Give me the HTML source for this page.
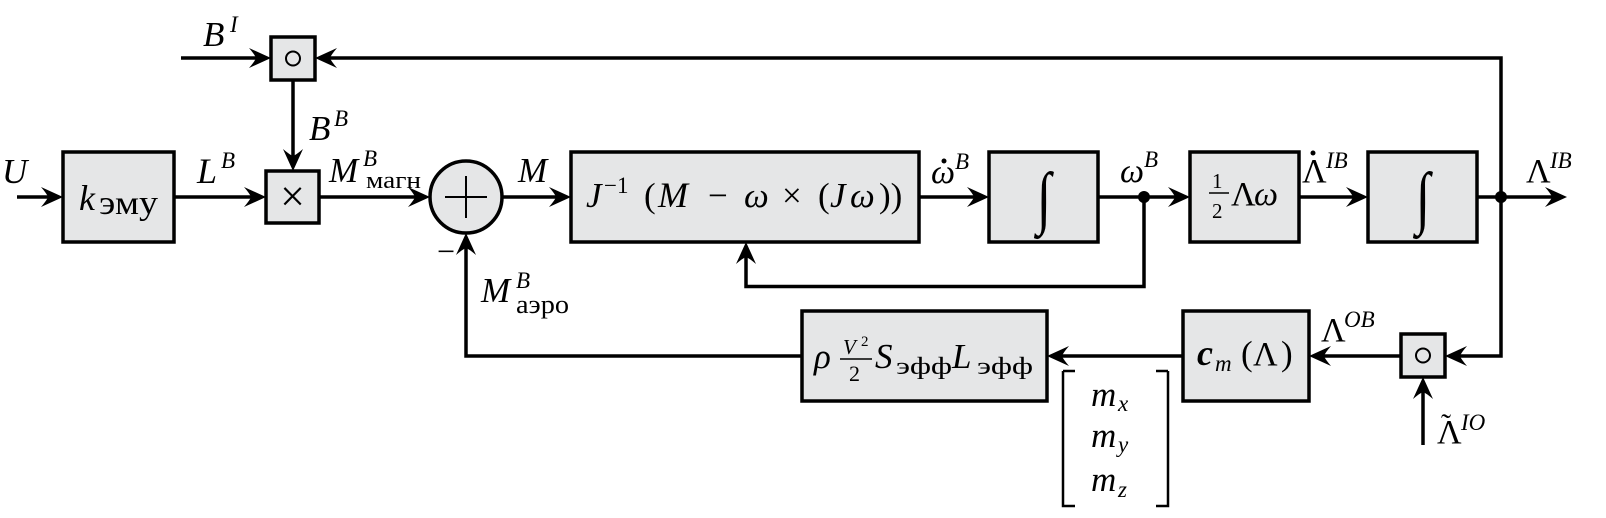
<!DOCTYPE html>
<html><head><meta charset="utf-8"><style>
html,body{margin:0;padding:0;background:#fff;}
svg{display:block;}
.t{font-family:"Liberation Serif","DejaVu Serif",serif;fill:#000;}
.i{font-style:italic;}
</style></head><body>
<svg width="1606" height="518" viewBox="0 0 1606 518" xmlns="http://www.w3.org/2000/svg">
<defs>
<marker id="a" viewBox="-24 -11 26 22" refX="-8" refY="0" markerWidth="26" markerHeight="22" markerUnits="userSpaceOnUse" orient="auto">
<path d="M0,0 L-22,-10 Q-16,-3 -15,0 Q-16,3 -22,10 Z" fill="#000"/>
</marker>
</defs>
<rect width="1606" height="518" fill="#fff"/>
<g fill="#e5e6e7" stroke="#000" stroke-width="3.5">
<rect x="63" y="152" width="111" height="90"/>
<rect x="266" y="171" width="53" height="52"/>
<rect x="271" y="37" width="44" height="43"/>
<circle cx="466" cy="197" r="36"/>
<rect x="571" y="152" width="348" height="90"/>
<rect x="989" y="152" width="109" height="90"/>
<rect x="1190" y="152" width="109" height="90"/>
<rect x="1368" y="152" width="109" height="90"/>
<rect x="802" y="311" width="245" height="90"/>
<rect x="1183" y="311" width="126" height="90"/>
<rect x="1401" y="334" width="44" height="43"/>
</g>
<g fill="none" stroke="#000" stroke-width="3.5" marker-end="url(#a)">
<path d="M17,197 H55"/>
<path d="M174,197 H258"/>
<path d="M319,197 H422"/>
<path d="M502,197 H563"/>
<path d="M919,197 H981"/>
<path d="M1098,197 H1182"/>
<path d="M1299,197 H1360"/>
<path d="M1477,197 H1559"/>
<path d="M1501,197 V58 H323"/>
<path d="M1501,197 V356 H1453"/>
<path d="M181,58 H263"/>
<path d="M293,80 V163"/>
<path d="M1144,197 V286.5 H746 V250"/>
<path d="M1423,445 V385"/>
<path d="M1401,356 H1317"/>
<path d="M1183,356 H1055"/>
<path d="M802,356 H466 V241"/>
</g>
<circle cx="1144" cy="197" r="6"/>
<circle cx="1501" cy="197" r="6"/>
<g fill="none" stroke="#000" stroke-width="2">
<circle cx="293" cy="58.5" r="7"/>
<circle cx="1423" cy="355.5" r="7"/>
<path d="M445,197 H487 M466,176 V218"/>
<path d="M1063,371 H1075 M1063,371 V506 H1075 M1168,371 H1156 M1168,371 V506 H1156" stroke-width="2.5"/>
<path d="M1209,193 H1229" stroke-width="1.5"/>
<path d="M840,359 H872" stroke-width="1.5"/>
</g>
<g class="t" font-size="34">
<text x="2" y="183" class="t i" font-size="35">U</text>
<text x="197" y="183" class="t i" font-size="36">L</text><text x="221" y="168" class="t i" font-size="23">B</text>
<text x="203" y="46" class="t i" font-size="35">B</text><text x="230" y="32" class="t i" font-size="23">I</text>
<text x="309" y="140" class="t i" font-size="35">B</text><text x="334" y="126" class="t i" font-size="23">B</text>
<text x="329" y="182" class="t i" font-size="35">M</text><text x="363" y="166" class="t i" font-size="23">B</text>
<text x="366" y="188" class="t" font-size="24" textLength="55" lengthAdjust="spacingAndGlyphs">магн</text>
<text x="518" y="182" class="t i" font-size="35">M</text>
<text x="446" y="262" class="t" text-anchor="middle" font-size="32">−</text>
<text x="481" y="302" class="t i" font-size="35">M</text><text x="516" y="288" class="t i" font-size="23">B</text>
<text x="516" y="313" class="t" font-size="26" textLength="53" lengthAdjust="spacingAndGlyphs">аэро</text>
<text x="931" y="183" class="t i" font-size="34">ω</text><circle cx="944" cy="161" r="2.5"/><text x="955" y="169" class="t i" font-size="23">B</text>
<text x="1120" y="182" class="t i" font-size="34">ω</text><text x="1144" y="167" class="t i" font-size="23">B</text>
<text x="1302" y="182" class="t" font-size="34">Λ</text><circle cx="1313" cy="153" r="2.5"/><text x="1326" y="168" class="t i" font-size="23">IB</text>
<text x="1526" y="182" class="t" font-size="34">Λ</text><text x="1550" y="168" class="t i" font-size="23">IB</text>
<text x="1321" y="341" class="t" font-size="34">Λ</text><text x="1344" y="327" class="t i" font-size="23">OB</text>
<text x="1437" y="443" class="t" font-size="34">Λ</text><text x="1441" y="434" class="t" font-size="30">˜</text><text x="1461" y="430" class="t i" font-size="23">IO</text>
<text x="79" y="210" class="t i" font-size="36">k</text>
<text x="99" y="214" class="t" font-size="34" textLength="59" lengthAdjust="spacingAndGlyphs">эму</text>
<text x="292.5" y="211" class="t" text-anchor="middle" font-size="44">×</text>
<text x="586" y="207" class="t i" font-size="35">J</text>
<text x="604" y="193" class="t" font-size="23">−1</text>
<text x="644" y="207" class="t" font-size="35">(</text>
<text x="658" y="207" class="t i" font-size="36">M</text>
<text x="708" y="207" class="t" font-size="35">−</text>
<text x="744" y="207" class="t i" font-size="35">ω</text>
<text x="782" y="207" class="t" font-size="35">×</text>
<text x="818" y="207" class="t" font-size="35">(</text>
<text x="830" y="207" class="t i" font-size="35">J</text>
<text x="850" y="207" class="t i" font-size="35">ω</text>
<text x="879" y="207" class="t" font-size="35">))</text>
<text x="1044" y="218" class="t" font-size="62" text-anchor="middle" transform="translate(1044 197) scale(0.85 1.12) translate(-1044 -197)">∫</text>
<text x="1423" y="218" class="t" font-size="62" text-anchor="middle" transform="translate(1423 197) scale(0.85 1.12) translate(-1423 -197)">∫</text>
<text x="1212" y="188" class="t" font-size="21">1</text>
<text x="1212" y="218" class="t" font-size="21">2</text>
<text x="1231" y="205" class="t" font-size="34">Λ</text>
<text x="1254" y="205" class="t i" font-size="34">ω</text>
<text x="814" y="368" class="t i" font-size="35">ρ</text>
<text x="843" y="354" class="t i" font-size="21">V</text>
<text x="861" y="346" class="t" font-size="15">2</text>
<text x="849" y="381" class="t" font-size="22">2</text>
<text x="875" y="368" class="t i" font-size="35">S</text>
<text x="896" y="374" class="t" font-size="24" textLength="56" lengthAdjust="spacingAndGlyphs">эфф</text>
<text x="952" y="368" class="t i" font-size="35">L</text>
<text x="977" y="374" class="t" font-size="24" textLength="56" lengthAdjust="spacingAndGlyphs">эфф</text>
<text x="1197" y="365" class="t i" font-weight="bold" font-size="36">c</text>
<text x="1215" y="371" class="t i" font-size="23">m</text>
<text x="1241" y="365" class="t" font-size="35">(</text>
<text x="1253" y="365" class="t" font-size="34">Λ</text>
<text x="1281" y="365" class="t" font-size="35">)</text>
<text x="1091" y="406" class="t i" font-size="35">m</text><text x="1118" y="411" class="t i" font-size="23">x</text>
<text x="1091" y="447" class="t i" font-size="35">m</text><text x="1118" y="452" class="t i" font-size="23">y</text>
<text x="1091" y="491" class="t i" font-size="35">m</text><text x="1118" y="497" class="t i" font-size="23">z</text>
</g>
</svg>
</body></html>
